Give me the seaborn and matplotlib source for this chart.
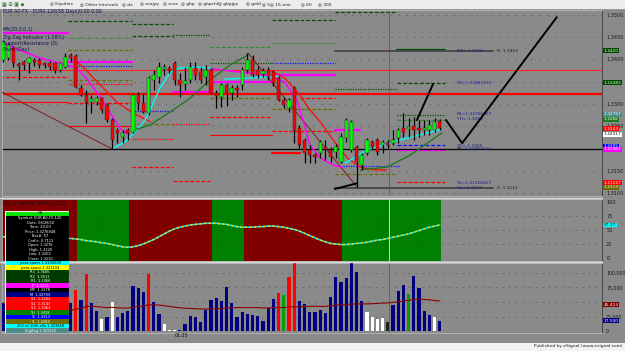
import numpy as np
import pandas as pd
import matplotlib
matplotlib.use("Agg")
import matplotlib.pyplot as plt
import matplotlib.transforms as mtransforms
from matplotlib.patches import Rectangle
import seaborn as sns

sns.set_theme(style="white")
plt.rcParams['font.family'] = ['DejaVu Sans']

# ---------------- data ----------------
opens = [1.3399, 1.3403, 1.3426, 1.3390, 1.3394, 1.3392, 1.3399, 1.3399, 1.3392, 1.3392,
         1.3392, 1.3376, 1.3383, 1.3410, 1.3408, 1.3336, 1.3320, 1.3304, 1.3304, 1.3313,
         1.3298, 1.3264, 1.3242, 1.3226, 1.3242, 1.3237, 1.3320, 1.3302, 1.3280, 1.3354,
         1.3361, 1.3379, 1.3381, 1.3392, 1.3354, 1.3345, 1.3354, 1.3381, 1.3372, 1.3361,
         1.3376, 1.3325, 1.3316, 1.3343, 1.3325, 1.3336, 1.3343, 1.3376, 1.3399, 1.3376,
         1.3367, 1.3376, 1.3372, 1.3358, 1.3309, 1.3291, 1.3336, 1.3246, 1.3219, 1.3197,
         1.3185, 1.3190, 1.3203, 1.3197, 1.3192, 1.3170, 1.3224, 1.3197, 1.3203, 1.3163,
         1.3190, 1.3215, 1.3219, 1.3208, 1.3212, 1.3212, 1.3224, 1.3246, 1.3244, 1.3251,
         1.3246, 1.3242, 1.3242, 1.3242, 1.3262]
highs = [1.3444, 1.3437, 1.3430, 1.3394, 1.3399, 1.3406, 1.3403, 1.3403, 1.3394, 1.3397,
         1.3394, 1.3394, 1.3415, 1.3415, 1.3412, 1.3343, 1.3331, 1.3320, 1.3318, 1.3316,
         1.3302, 1.3269, 1.3246, 1.3242, 1.3246, 1.3325, 1.3327, 1.3325, 1.3363, 1.3376,
         1.3394, 1.3390, 1.3385, 1.3397, 1.3370, 1.3383, 1.3394, 1.3394, 1.3383, 1.3388,
         1.3381, 1.3331, 1.3347, 1.3347, 1.3343, 1.3343, 1.3383, 1.3415, 1.3410, 1.3385,
         1.3381, 1.3383, 1.3376, 1.3363, 1.3316, 1.3313, 1.3340, 1.3253, 1.3224, 1.3208,
         1.3190, 1.3219, 1.3219, 1.3203, 1.3210, 1.3235, 1.3269, 1.3264, 1.3208, 1.3190,
         1.3224, 1.3219, 1.3224, 1.3219, 1.3219, 1.3242, 1.3246, 1.3280, 1.3269, 1.3271,
         1.3264, 1.3264, 1.3264, 1.3269, 1.3266]
lows = [1.3394, 1.3399, 1.3383, 1.3354, 1.3376, 1.3370, 1.3385, 1.3381, 1.3381, 1.3376,
        1.3370, 1.3372, 1.3381, 1.3394, 1.3336, 1.3318, 1.3257, 1.3280, 1.3298, 1.3280,
        1.3260, 1.3199, 1.3212, 1.3212, 1.3219, 1.3235, 1.3287, 1.3280, 1.3275, 1.3331,
        1.3347, 1.3365, 1.3370, 1.3343, 1.3316, 1.3331, 1.3347, 1.3354, 1.3347, 1.3343,
        1.3322, 1.3291, 1.3293, 1.3296, 1.3309, 1.3316, 1.3331, 1.3370, 1.3361, 1.3358,
        1.3361, 1.3354, 1.3340, 1.3307, 1.3291, 1.3282, 1.3212, 1.3201, 1.3167, 1.3167,
        1.3167, 1.3179, 1.3174, 1.3170, 1.3179, 1.3167, 1.3215, 1.3192, 1.3113, 1.3152,
        1.3185, 1.3197, 1.3185, 1.3190, 1.3201, 1.3208, 1.3212, 1.3226, 1.3226, 1.3219,
        1.3226, 1.3230, 1.3230, 1.3237, 1.3242]
closes = [1.3439, 1.3433, 1.3392, 1.3385, 1.3388, 1.3403, 1.3394, 1.3388, 1.3388, 1.3383,
          1.3376, 1.3392, 1.3406, 1.3403, 1.3338, 1.3320, 1.3302, 1.3311, 1.3313, 1.3287,
          1.3264, 1.3219, 1.3235, 1.3235, 1.3235, 1.3320, 1.3302, 1.3282, 1.3358, 1.3365,
          1.3383, 1.3383, 1.3376, 1.3354, 1.3343, 1.3352, 1.3383, 1.3365, 1.3354, 1.3376,
          1.3325, 1.3318, 1.3343, 1.3325, 1.3336, 1.3331, 1.3376, 1.3399, 1.3365, 1.3365,
          1.3374, 1.3361, 1.3347, 1.3309, 1.3298, 1.3309, 1.3242, 1.3208, 1.3190, 1.3185,
          1.3181, 1.3215, 1.3199, 1.3181, 1.3203, 1.3226, 1.3264, 1.3260, 1.3170, 1.3185,
          1.3219, 1.3203, 1.3192, 1.3215, 1.3208, 1.3219, 1.3242, 1.3237, 1.3248, 1.3242,
          1.3242, 1.3246, 1.3253, 1.3260, 1.3246]

volumes = [48, 42, 38, 30, 28, 25, 30, 26, 30, 32, 36, 40, 44, 48, 71, 53, 98, 48, 35, 21,
           25, 50, 25, 31, 35, 78, 74, 67, 98, 50, 29, 12, 1, 1, 2, 12, 26, 24, 16, 36,
           53, 57, 51, 76, 48, 25, 33, 29, 28, 26, 17, 40, 56, 65, 62, 93, 120, 51, 46, 32,
           32, 36, 31, 59, 93, 84, 91, 120, 102, 51, 33, 25, 21, 22, 16, 45, 69, 79, 64, 95,
           74, 34, 28, 25, 17]
vol_kind = ['n'] * 14 + ['r', 'n', 'r', 'n', 'n', 'w', 'n', 'w', 'n', 'n',
                         'n', 'n', 'n', 'n', 'r', 'n', 'n', 'w', 'w', 'w',
                         'n', 'n', 'n', 'n', 'n', 'n', 'n', 'n', 'n', 'n',
                         'n', 'n', 'n', 'n', 'n', 'n', 'n', 'n', 'n', 'r',
                         'g', 'r', 'r', 'n', 'n', 'n', 'n', 'n', 'n', 'n',
                         'n', 'n', 'n', 'n', 'n', 'n', 'w', 'w', 'w', 'w',
                         'k', 'n', 'n', 'n', 'g', 'n', 'n', 'n', 'n', 'w', 'n']

rsi = [38, 38, 37, 37, 36, 36, 36, 36, 35, 35, 35, 35, 35, 35, 34, 33, 31, 30, 29, 27,
       26, 24, 22, 20, 19, 20, 22, 25, 29, 33, 38, 43, 48, 52, 55, 57, 59, 60, 61, 62,
       62, 62, 61, 60, 58, 56, 55, 55, 55, 56, 56, 57, 57, 56, 55, 53, 51, 48, 44, 40,
       36, 32, 29, 26, 25, 24, 24, 25, 26, 27, 28, 30, 32, 33, 35, 37, 39, 41, 43, 46,
       49, 52, 55, 57, 59]
band_edges = [-0.6, 14.2, 24.2, 40.2, 46.3, 65.2, 84.3]
band_state = ['down', 'up', 'down', 'up', 'down', 'up']

# indicator curves: (bar index, price)
magenta1_x = [0, 3.3, 7.1, 11, 14.2, 16.3, 18.7, 20.6, 22.5, 23.8]
magenta1_y = [1.3437, 1.3421, 1.3403, 1.3392, 1.3381, 1.3354, 1.3316, 1.3280, 1.3246, 1.3233]
magenta2_x = [40.2, 43.7, 47.5, 51.3, 54.2, 56.5, 57.7, 59, 61, 63.5, 65.2]
magenta2_y = [1.3379, 1.3374, 1.3370, 1.3363, 1.3349, 1.3309, 1.3264, 1.3208, 1.3179, 1.3163, 1.3158]
red1_x = [14.2, 15.4, 18.7, 21.9, 25.0, 28.3]
red1_y = [1.3394, 1.3383, 1.3343, 1.3304, 1.3280, 1.3260]
red2_x = [51.3, 54.2, 57.1, 59, 61, 63.5, 66.2, 68.7, 71.2, 73.8]
red2_y = [1.3376, 1.3358, 1.3320, 1.3287, 1.3260, 1.3219, 1.3179, 1.3158, 1.3152, 1.3152]
cyan1_x = [21.2, 23.5, 25.4, 27.3, 28.3, 30.2, 32.1, 34, 36.9, 39.8]
cyan1_y = [1.3201, 1.3215, 1.3237, 1.3264, 1.3287, 1.3336, 1.3370, 1.3381, 1.3383, 1.3381]
cyan2_x = [42.7, 46.5, 51, 52.9]
cyan2_y = [1.3356, 1.3358, 1.3361, 1.3363]
cyan3_x = [65.8, 70, 76.3, 84]
cyan3_y = [1.3167, 1.3197, 1.3219, 1.3242]
green1_x = [25.4, 28.3, 32.1, 36, 39.8, 43.7, 47.1]
green1_y = [1.3242, 1.3253, 1.3282, 1.3313, 1.3354, 1.3388, 1.3410]
green2_x = [68.7, 73.8, 78.3, 84.4]
green2_y = [1.3152, 1.3158, 1.3185, 1.3235]
zigzag_x = [-0.6, 21, 47.1, 68.1, 77.3]
zigzag_y = [1.3329, 1.3199, 1.3415, 1.3113, 1.3280]
drawn1_x = [63.8, 68.1]
drawn1_y = [1.3109, 1.3122]
drawn2_x = [79.6, 82.7]
drawn2_y = [1.3264, 1.3345]
drawn3_x = [85.2, 88.3, 106.5]
drawn3_y = [1.3264, 1.3212, 1.3495]

# pivot / support-resistance segments
seg_x0 = [-0.6, 12.5, 12.5, 12.5, 12.5, 12.5, 12.5, 12.5, 12.5, 12.5, -0.6, -0.6,
          24.8, 24.8, 24.8, 24.8, 24.8, 24.8, 32.7, 32.7, 32.7, 32.7,
          39.8, 39.8, 39.8, 39.8, 39.8, 39.8, 51.7, 51.7, 51.7, 51.7, 51.7, 51.7, 51.7,
          63.8, 63.8, 57.1, 75.8, 75.8, 75.8, 75.8, 75.8, 75.8, 75.8, 65.4, 63.8, 63.8]
seg_x1 = [12.5, 24.8, 24.8, 24.8, 24.8, 24.8, 24.8, 24.8, 24.8, 24.8, 12.5, 12.5,
          32.7, 32.7, 32.7, 32.7, 32.7, 32.7, 39.8, 39.8, 39.8, 39.8,
          51.7, 51.7, 51.7, 51.7, 51.7, 51.7, 63.8, 63.8, 63.8, 63.8, 63.8, 63.8, 57.1,
          75.8, 75.8, 63.8, 85.0, 85.0, 85.0, 85.0, 85.0, 85.0, 85.0, 76.3, 75.8, 68.7]
seg_price = [1.3460, 1.3487, 1.3448, 1.3421, 1.3394, 1.3385, 1.3354, 1.3345, 1.3302, 1.3251, 1.3361, 1.3304,
             1.3480, 1.3453, 1.3284, 1.3221, 1.3158, 1.3255, 1.3455, 1.3327, 1.3255, 1.3127,
             1.3428, 1.3392, 1.3349, 1.3313, 1.3271, 1.3230, 1.3489, 1.3437, 1.3392, 1.3365, 1.3289, 1.3239, 1.3190,
             1.3507, 1.3334, 1.3313, 1.3422, 1.3347, 1.3275, 1.3264, 1.3208, 1.3197, 1.3125, 1.3161, 1.3143, 1.3242]
seg_color = ['m', 'dg', 'g', 'o', 'm', 'b', 'o', 'r', 'r', 'r', 'r', 'r',
             'dg', 'dg', 'b', 'r', 'r', 'o', 'dg', 'm', 'r', 'r',
             'g', 'dg', 'm', 'o', 'r', 'r', 'dg', 'g', 'b', 'm', 'o', 'r', 'r',
             'dg', 'dg', 'r', 'dg', 'dg', 'dg', 'g', 'b', 'm', 'r', 'b', 'o', 'm']
seg_style = ['thick', 'dash', 'dot', 'dash', 'thick', 'dot', 'dash', 'dot', 'dash', 'solid', 'dash', 'solid',
             'dash', 'dash', 'dot', 'dot', 'dash', 'dash', 'dot', 'thick', 'dot', 'dash',
             'dash', 'dot', 'thick', 'dash', 'dash', 'solid', 'dash', 'dot', 'dot', 'thick', 'dash', 'dash', 'thick',
             'dash', 'dot', 'dash', 'thick', 'dash', 'dot', 'dash', 'dash', 'thick', 'dash', 'dot', 'dash', 'thick']

full_lines_price = [1.3376, 1.3322, 1.3199]
full_lines_color = ['#ff2020', '#ff0000', '#000000']
full_lines_width = [0.8, 1.6, 0.9]

sr_labels_x = [87.3] * 8
sr_labels_price = [1.3420, 1.33483, 1.32767, 1.3266, 1.3205, 1.31983, 1.31227, 1.3112]
sr_labels_text = ['R2= 1.3420', 'R2=1.33483333', 'R1=1.32766667', 'YH= 1.3266',
                  'YC= 1.3205', 'PP=1.31983333', 'S1=1.31226667', 'YL= 1.3112']
rs_line_x = [63.8, 94.2]
rs_line_price = [1.3419, 1.3112]
rs_line_text = ['R: 1.3419', 'S: 1.3112']

price_ticks = [1.3100, 1.3150, 1.3250, 1.3300, 1.3400, 1.3450, 1.3500]
box_price = [1.3420, 1.33483, 1.32767, 1.3266, 1.3244, 1.3232, 1.3205, 1.31983, 1.31227, 1.3113]
box_text = ['1.3420', '1.33483', '1.32767', '1.3266', '1.3243', '1.32317', '1.3205', '1.31983', '1.31227', '1.3113']
box_bg = ['#004a00', '#004a00', '#4f8c8c', '#1e7a1e', '#ff0000', '#ffffff', '#0000ff', '#ff00ff', '#ff0000', '#6b6b00']
box_fg = ['#e0ffe0', '#e0ffe0', '#ffffff', '#ffffff', '#ffffff', '#000000', '#ffffff', '#ffffff', '#ffffff', '#ffffff']

rsi_ticks = [0, 25, 50, 75, 100]
rsi_last_label = '57.37'
vol_ticks = [0, 25000, 75000, 100000]
vol_tick_labels = ['0', '25,000', '75,000', '100,000']
vol_box_values = [45424.6, 17500]
vol_box_text = ['45,424', '17,500']
vol_box_bg = ['#800000', '#000080']

dw_text = ['OK', 'Symbol: EUR A0-FX,120', 'Date: 04/28/10', 'Time: 20:00', 'Price: 1.3276948',
           'Bar#: 57', 'Corfic: 0.7112', 'Open: 1.3276', 'High: 1.3220', 'Low: 1.3202', 'Close: 1.3210',
           'para-space 1.3190909', 'para-space 1.321104', 'R3  1.3606', 'R2  1.3511', 'R1  1.3366',
           'P  1.3235', 'MP  1.3278', 'M  1.32793', 'S1  1.3204', 'S2  1.3143', 'S3  1.3063',
           'YH  1.3418', 'YC  1.3313', 'YL  1.3162', '20C at 10th ella 1.323658', 'ZigZag 1.322222']
dw_bg = ['#00e000'] + ['#000000'] * 10 + ['#00ffff', '#ffff00', '#003c00', '#003c00', '#003c00',
         '#ff00ff', '#000000', '#000080', '#ff0000', '#ff0000', '#ff0000',
         '#008000', '#0000ff', '#707000', '#00ffff', '#4f8c8c']
dw_fg = ['#000000'] + ['#ffffff'] * 10 + ['#000000', '#000000'] + ['#ffffff'] * 12 + ['#000000', '#ffffff']

toolbar_items = ['Equities', 'Other Intervals', 'dx', 'eurjpy', 'eurs', 'gbp', 'gbpchf',
                 'gbpjpy', 'gold', '5', '15-min', '60', '300']
toolbar_x = [50, 80, 122, 140, 163, 181, 198, 218, 246, 262, 270, 301, 318]

legend_lines = ['EUR A0-FX - EUR0,120(58 Days)0:00 0:00', 'MA(20,3,0,1)', 'Zig Zag Indicator (1.08%)',
                'Support/Resistance (D)', 'Pivot (Day)']
legend_y = [12, 30, 37, 43, 49]

# ---------------- drawing ----------------
W, H = 625, 351
BG = '#8a8a8a'
fig = plt.figure(figsize=(W / 100, H / 100), dpi=100, facecolor=BG)

def fx(x):
    return x / W

def fy(y):
    return 1 - y / H

def add_axes(y_top, y_bot):
    ax = fig.add_axes([fx(2), fy(y_bot), 600 / W, (y_bot - y_top) / H])
    ax.set_facecolor(BG)
    for s in ax.spines.values():
        s.set_color('#b8b8b8')
        s.set_linewidth(0.6)
    ax.spines['right'].set_color('#3a3a3a')
    return ax

n = len(opens)
idx = np.arange(n)
XL = (-0.19, 115.19)

colmap = {'m': '#ff00ff', 'dg': '#005200', 'g': '#2e8b2e', 'o': '#6e6e00', 'r': '#ff0000', 'b': '#1010ff'}
BOXFS = 3.1

# price panel
axp = add_axes(10, 196)
axp.set_xlim(*XL)
axp.set_ylim(1.30933, 1.35112)
for lvl in np.arange(1.3100, 1.3501, 0.005):
    axp.axhline(lvl, color='#555555', lw=0.7, ls=(0, (1, 7)), zorder=1)
for x0, x1, p, c, st in zip(seg_x0, seg_x1, seg_price, seg_color, seg_style):
    if st == 'thick':
        kw = dict(lw=1.6, ls='-')
    elif st == 'dash':
        kw = dict(lw=0.9, ls=(0, (3, 1.5)))
    elif st == 'dot':
        kw = dict(lw=0.9, ls=(0, (1, 1)))
    else:
        kw = dict(lw=0.8, ls='-')
    axp.plot([x0, x1], [p, p], color=colmap[c], zorder=2, **kw)
for p, c, w in zip(full_lines_price, full_lines_color, full_lines_width):
    axp.axhline(p, color=c, lw=w, zorder=2)
axp.axvline(74.2, color='#d03030', lw=0.6, zorder=2)

# grey R/S lines
for p, t in zip(rs_line_price, rs_line_text):
    axp.plot(rs_line_x, [p, p], color='#4a4a4a', lw=1.4, zorder=3)
    axp.text(rs_line_x[1] + 0.8, p, t, fontsize=3.2, color='#1a1a1a', va='center', zorder=6)
for x, p, t in zip(sr_labels_x, sr_labels_price, sr_labels_text):
    axp.text(x, p, t, fontsize=3.2, color='#1c1c8c', va='center', zorder=6)

# indicator curves
def curve(xs, ys, color, lw=1.0, ls='-'):
    sns.lineplot(x=xs, y=ys, ax=axp, color=color, lw=lw, ls=ls, sort=False,
                 estimator=None, legend=False, zorder=4)

curve(magenta1_x, magenta1_y, '#ff00ff', 1.1)
curve(magenta2_x, magenta2_y, '#ff00ff', 1.1)
curve(red1_x, red1_y, '#ff1010', 1.0)
curve(red2_x, red2_y, '#ff1010', 1.0)
curve(cyan1_x, cyan1_y, '#00ffff', 1.0)
curve(cyan2_x, cyan2_y, '#00ffff', 1.0)
curve(cyan3_x, cyan3_y, '#00ffff', 1.0)
curve(green1_x, green1_y, '#1f7a1f', 1.0)
curve(green2_x, green2_y, '#1f7a1f', 1.0)
for k in range(len(zigzag_x) - 1):
    down = zigzag_y[k + 1] < zigzag_y[k]
    axp.plot(zigzag_x[k:k + 2], zigzag_y[k:k + 2],
             color='#8b1a1a' if down else '#5f8f8f', lw=0.7,
             ls='-' if down else (0, (1, 1.5)), zorder=3)

# candles
body_lo = np.minimum(opens, closes)
body_h = np.maximum(np.abs(np.array(closes) - np.array(opens)), 0.00012)
ccol = ['#00ff00' if c > o else '#ff0000' for o, c in zip(opens, closes)]
axp.vlines(idx, lows, highs, color='black', lw=0.9, zorder=5)
axp.bar(idx, body_h, bottom=body_lo, width=0.62, color=ccol, edgecolor='#202020',
        linewidth=0.3, zorder=6)

# hand drawn lines
for xs, ys in ((drawn1_x, drawn1_y), (drawn2_x, drawn2_y), (drawn3_x, drawn3_y)):
    sns.lineplot(x=xs, y=ys, ax=axp, color='black', lw=1.4, sort=False,
                 estimator=None, legend=False, zorder=7)

axp.set_xticks([])
axp.yaxis.tick_right()
axp.set_yticks(price_ticks)
axp.set_yticklabels([f'{t:.4f}' for t in price_ticks])
axp.tick_params(axis='y', length=0, pad=3, labelsize=3.6, labelcolor='#1a1a1a')
trp = mtransforms.blended_transform_factory(axp.transAxes, axp.transData)
for p, t, bg, fg in zip(box_price, box_text, box_bg, box_fg):
    axp.text(1.003, p, t, transform=trp, fontsize=BOXFS, color=fg, va='center', ha='left',
             bbox=dict(boxstyle='square,pad=0.1', fc=bg, ec='none'), clip_on=False, zorder=8)
for t, y in zip(legend_lines, legend_y):
    fig.text(fx(3), fy(y), t, fontsize=3.4, color='#10104a', va='center', ha='left')

# RSI panel
axr = add_axes(199, 261)
axr.set_xlim(*XL)
axr.set_ylim(-5.4, 105.4)
for k in range(len(band_state)):
    axr.axvspan(band_edges[k], band_edges[k + 1], color='#008000' if band_state[k] == 'up' else '#800000',
                lw=0, zorder=0)
for lv in (25, 50, 75):
    axr.axhline(lv, color='#3a3a3a', lw=0.6, ls=(0, (1, 7)), zorder=1)
axr.axvline(74.2, color='#a8f0a8', lw=0.7, zorder=2)
sns.lineplot(x=idx, y=rsi, ax=axr, color='#00e8ff', lw=1.1, legend=False, zorder=3)
sns.lineplot(x=idx, y=rsi, ax=axr, color='#ffd000', lw=1.1, ls=(0, (1.5, 1.5)), legend=False, zorder=4)
axr.set_xticks([])
axr.yaxis.tick_right()
axr.set_yticks(rsi_ticks)
axr.tick_params(axis='y', length=0, pad=3, labelsize=3.6, labelcolor='#1a1a1a')
trr = mtransforms.blended_transform_factory(axr.transAxes, axr.transData)
axr.text(1.003, rsi[-1], rsi_last_label, transform=trr, fontsize=BOXFS,
         color='#000000', va='center', bbox=dict(boxstyle='square,pad=0.1', fc='#00ffff', ec='none'),
         clip_on=False, zorder=8)
fig.text(fx(3), fy(203), 'RSI + trailing SMA(21,2,2)', fontsize=3.4, color='#101010', va='center')

# volume panel
axv = add_axes(263, 333)
axv.set_xlim(*XL)
axv.set_ylim(-3400, 117200)
for lv in (25000, 50000, 75000, 100000):
    axv.axhline(lv, color='#3a3a3a', lw=0.6, ls=(0, (1, 7)), zorder=1)
vcol = {'n': '#000080', 'r': '#ff0000', 'w': '#ffffff', 'g': '#00a000', 'k': '#202020'}
vol = np.array(volumes) * 1000.0
axv.bar(idx, vol, width=0.62, color=[vcol[k] for k in vol_kind], linewidth=0, zorder=3)
vol_ma = pd.Series(vol).rolling(40, min_periods=1).mean()
sns.lineplot(x=idx, y=vol_ma.values, ax=axv, color='#8b0000', lw=0.8, legend=False, zorder=4)
axv.axvline(74.2, color='#d03030', lw=0.6, zorder=2)
axv.set_xticks([])
axv.yaxis.tick_right()
axv.set_yticks(vol_ticks)
axv.set_yticklabels(vol_tick_labels)
axv.tick_params(axis='y', length=0, pad=3, labelsize=3.4, labelcolor='#1a1a1a')
trv = mtransforms.blended_transform_factory(axv.transAxes, axv.transData)
for v, t, bg in zip(vol_box_values, vol_box_text, vol_box_bg):
    axv.text(1.003, v, t, transform=trv, fontsize=BOXFS, color='white', va='center',
             bbox=dict(boxstyle='square,pad=0.1', fc=bg, ec='none'), clip_on=False, zorder=8)
axv.text(34.4, -3400, '01:25', fontsize=3.4, color='#101010', ha='center', va='top', clip_on=False)

# separators
for y in (197.5, 261.8):
    fig.add_artist(plt.Line2D([0, fx(602)], [fy(y), fy(y)], color='#dcdcdc', lw=1.0))

# data window overlay
axd = fig.add_axes([fx(5), fy(333), 64 / W, 122 / H], zorder=20)
axd.set_xlim(0, 1)
axd.set_ylim(len(dw_text), 0)
axd.axis('off')
for k, (t, bg, fg) in enumerate(zip(dw_text, dw_bg, dw_fg)):
    axd.add_patch(Rectangle((0, k), 1, 1, fc=bg, ec='none'))
    axd.text(0.55, k + 0.55, t, fontsize=2.6, color=fg, ha='center', va='center')
axd.add_patch(Rectangle((0, 0), 1, len(dw_text), fc='none', ec='#f0f0f0', lw=0.8))

# toolbar and footer
fig.add_artist(Rectangle((0, fy(9)), 1, 9 / H, transform=fig.transFigure, fc='#ececec', ec='none'))
fig.add_artist(plt.Line2D([0, 1], [fy(9), fy(9)], color='#9a9a9a', lw=0.6))
fig.text(fx(2), fy(4.5), '▦ ⊞ ▣ ◆', fontsize=3.6, color='#2a6a2a', va='center')
for t, x in zip(toolbar_items, toolbar_x):
    fig.text(fx(x), fy(4.5), '◎ ' + t, fontsize=3.2, color='#202020', va='center')
fig.add_artist(Rectangle((0, 0), 1, 8.5 / H, transform=fig.transFigure, fc='#f2f2f2', ec='none'))
fig.text(fx(622), fy(346.5), 'Published by eSignal (www.esignal.com)', fontsize=3.2,
         color='#202020', ha='right', va='center')

fig.savefig('out.png', dpi=100, facecolor=BG)
